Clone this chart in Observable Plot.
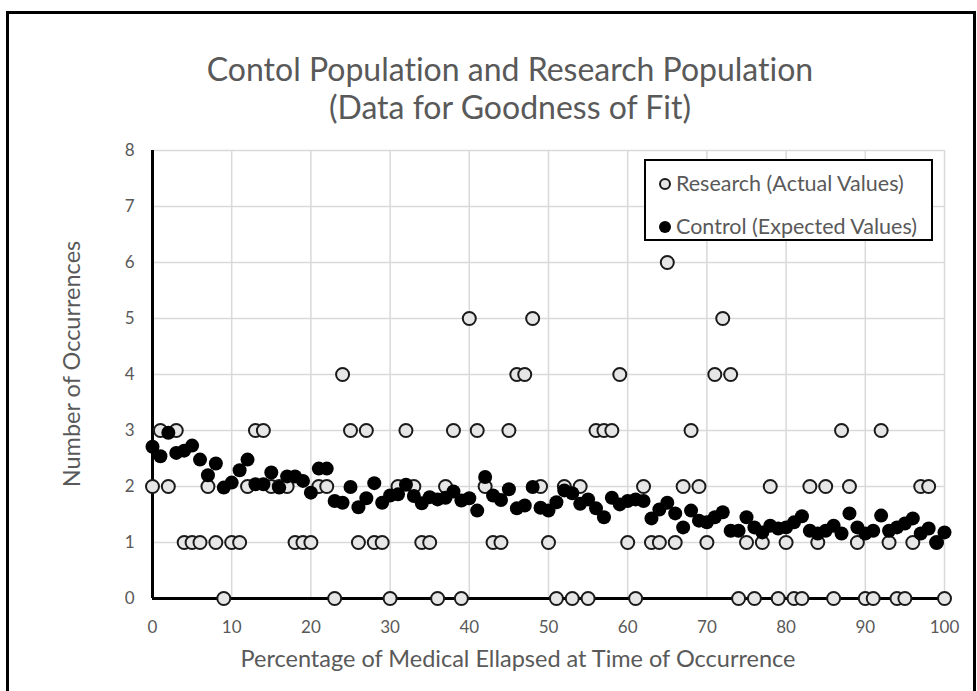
<!DOCTYPE html>
<html>
<head>
<meta charset="utf-8">
<script src="https://cdn.jsdelivr.net/npm/d3@7"></script>
<script src="https://cdn.jsdelivr.net/npm/@observablehq/plot@0.6"></script>
<style>
  html, body { margin: 0; padding: 0; background: #fff; }
  #wrap { position: relative; width: 977px; height: 691px; overflow: hidden; font-family: Lato, "Open Sans", sans-serif; color: #595959; font-variant-ligatures: none; }
  #frame { position: absolute; left: 6px; top: 11px; width: 970px; height: 700px; border: 3px solid #000; box-sizing: border-box; pointer-events: none; }
  #chart { position: absolute; left: 0; top: 0; }
  .title { position: absolute; left: 0; width: 1020px; text-align: center; font-size: 32px; line-height: 1; }
  #xlabel { position: absolute; left: 118px; width: 800px; top: 647px; text-align: center; font-size: 23.5px; line-height: 1; }
  #ylabel { position: absolute; left: 72px; top: 364px; transform: translate(-50%, -50%) rotate(-90deg); font-size: 23.5px; line-height: 1; white-space: nowrap; }
  #legend { position: absolute; left: 644px; top: 159px; width: 289px; height: 82px; border: 2px solid #000; background: #fff; box-sizing: border-box; font-size: 21.5px; }
  .item { position: absolute; left: 12px; display: flex; align-items: center; white-space: nowrap; line-height: 1; }
  .item svg { margin-right: 4px; }
</style>
</head>
<body>
<div id="wrap">
  <div id="chart"></div>
  <div class="title" style="top:53px;left:0px;">Contol Population and Research Population</div>
  <div class="title" style="top:91px;left:0px;">(Data for Goodness of Fit)</div>
  <div id="xlabel">Percentage of Medical Ellapsed at Time of Occurrence</div>
  <div id="ylabel">Number of Occurrences</div>
  <div id="legend">
    <div class="item" style="top:12px;"><svg width="14" height="14"><circle cx="7" cy="7" r="5" fill="#e6e6e6" stroke="#1a1a1a" stroke-width="2"/></svg><span>Research (Actual Values)</span></div>
    <div class="item" style="top:55px;"><svg width="14" height="14"><circle cx="7" cy="7" r="6" fill="#000"/></svg><span>Control (Expected Values)</span></div>
  </div>
  <div id="frame"></div>
</div>
<script>
// Percentage of medical elapsed (x)
const percent = d3.range(0, 101);

// Research (Actual Values)
const research = [
  2, 3, 2, 3, 1, 1, 1, 2, 1, 0,
  1, 1, 2, 3, 3, 2, 2, 2, 1, 1,
  1, 2, 2, 0, 4, 3, 1, 3, 1, 1,
  0, 2, 3, 2, 1, 1, 0, 2, 3, 0,
  5, 3, 2, 1, 1, 3, 4, 4, 5, 2,
  1, 0, 2, 0, 2, 0, 3, 3, 3, 4,
  1, 0, 2, 1, 1, 6, 1, 2, 3, 2,
  1, 4, 5, 4, 0, 1, 0, 1, 2, 0,
  1, 0, 0, 2, 1, 2, 0, 3, 2, 1,
  0, 0, 3, 1, 0, 0, 1, 2, 2, 1,
  0
];

// Control (Expected Values)
const control = [
  2.71, 2.54, 2.96, 2.60, 2.64, 2.73, 2.48, 2.20, 2.41, 1.98,
  2.07, 2.29, 2.48, 2.04, 2.04, 2.25, 1.98, 2.18, 2.18, 2.10,
  1.89, 2.32, 2.32, 1.74, 1.71, 1.99, 1.63, 1.79, 2.06, 1.71,
  1.84, 1.86, 2.03, 1.83, 1.70, 1.81, 1.77, 1.80, 1.91, 1.75,
  1.79, 1.57, 2.17, 1.84, 1.76, 1.95, 1.61, 1.66, 1.99, 1.62,
  1.57, 1.72, 1.93, 1.88, 1.69, 1.77, 1.61, 1.45, 1.80, 1.68,
  1.74, 1.77, 1.74, 1.43, 1.59, 1.71, 1.52, 1.27, 1.57, 1.39,
  1.36, 1.45, 1.54, 1.21, 1.21, 1.45, 1.27, 1.18, 1.30, 1.25,
  1.27, 1.36, 1.47, 1.21, 1.16, 1.21, 1.30, 1.16, 1.52, 1.27,
  1.16, 1.21, 1.48, 1.21, 1.27, 1.34, 1.43, 1.16, 1.25, 1.00,
  1.18
];

const xTicks = [0, 10, 20, 30, 40, 50, 60, 70, 80, 90, 100];
const yTicks = [0, 1, 2, 3, 4, 5, 6, 7, 8];

const researchData = percent.map((p, i) => ({x: p, y: research[i]}));
const controlData = percent.map((p, i) => ({x: p, y: control[i]}));

const chart = Plot.plot({
  width: 977,
  height: 691,
  marginLeft: 152,
  marginRight: 33,
  marginTop: 150,
  marginBottom: 93,
  style: {fontFamily: "Lato, 'Open Sans', sans-serif", fontSize: "17px", color: "#595959", background: "transparent", overflow: "visible"},
  x: {domain: [0, 100], ticks: xTicks, tickSize: 0, tickPadding: 22, label: null},
  y: {domain: [0, 8], ticks: yTicks, tickSize: 0, tickPadding: 18, label: null},
  marks: [
    Plot.ruleX(xTicks, {x: d => d, y1: 0, y2: 8, stroke: "#d9d9d9", strokeWidth: 1.5}),
    Plot.ruleY(yTicks, {y: d => d, x1: 0, x2: 100, stroke: "#d9d9d9", strokeWidth: 1.5}),
    Plot.ruleX([0], {y1: 0, y2: 8, stroke: "#000", strokeWidth: 3}),
    Plot.ruleY([0], {x1: 0, x2: 100, stroke: "#000", strokeWidth: 3}),
    Plot.dot(researchData, {x: "x", y: "y", r: 6.5, fill: "#e6e6e6", stroke: "#1a1a1a", strokeWidth: 2, fillOpacity: 1}),
    Plot.dot(controlData, {x: "x", y: "y", r: 7, fill: "#000", stroke: "none", fillOpacity: 1})
  ]
});
document.getElementById("chart").appendChild(chart);
</script>
</body>
</html>
